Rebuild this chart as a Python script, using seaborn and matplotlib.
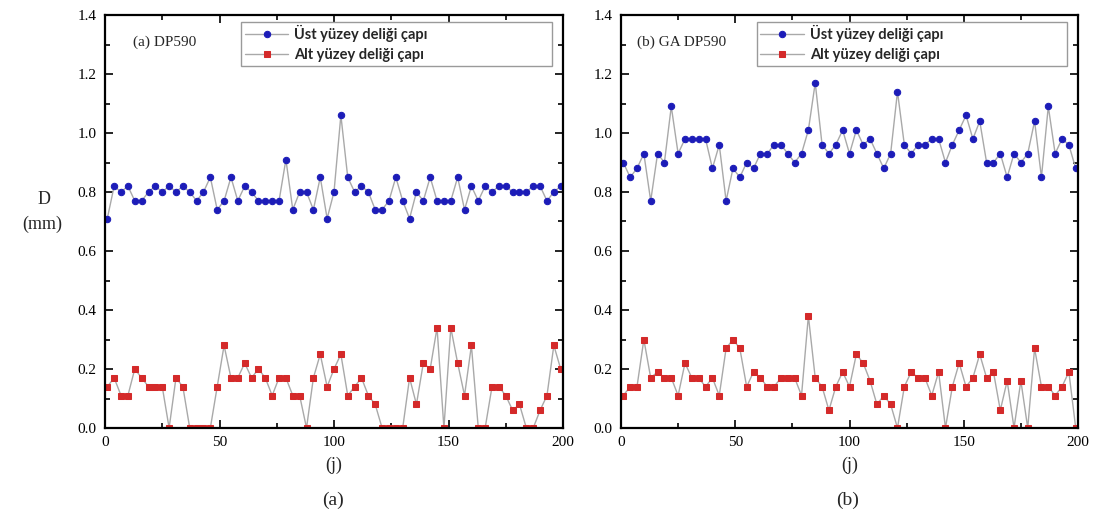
import numpy as np
import pandas as pd
import matplotlib
matplotlib.use('Agg')
import matplotlib.pyplot as plt
import seaborn as sns
from matplotlib.ticker import MultipleLocator, FormatStrFormatter

# positions along the specimen (j)
j = list(range(1, 200, 3))

# (a) DP590
a_ust = [0.71, 0.82, 0.80, 0.82, 0.77, 0.77, 0.80, 0.82, 0.80, 0.82,
         0.80, 0.82, 0.80, 0.77, 0.80, 0.85, 0.74, 0.77, 0.85, 0.77,
         0.82, 0.80, 0.77, 0.77, 0.77, 0.77, 0.91, 0.74, 0.80, 0.80,
         0.74, 0.85, 0.71, 0.80, 1.06, 0.85, 0.80, 0.82, 0.80, 0.74,
         0.74, 0.77, 0.85, 0.77, 0.71, 0.80, 0.77, 0.85, 0.77, 0.77,
         0.77, 0.85, 0.74, 0.82, 0.77, 0.82, 0.80, 0.82, 0.82, 0.80,
         0.80, 0.80, 0.82, 0.82, 0.77, 0.80, 0.82]
a_alt = [0.14, 0.17, 0.11, 0.11, 0.20, 0.17, 0.14, 0.14, 0.14, 0.00,
         0.17, 0.14, 0.00, 0.00, 0.00, 0.00, 0.14, 0.28, 0.17, 0.17,
         0.22, 0.17, 0.20, 0.17, 0.11, 0.17, 0.17, 0.11, 0.11, 0.00,
         0.17, 0.25, 0.14, 0.20, 0.25, 0.11, 0.14, 0.17, 0.11, 0.08,
         0.00, 0.00, 0.00, 0.00, 0.17, 0.08, 0.22, 0.20, 0.34, 0.00,
         0.34, 0.22, 0.11, 0.28, 0.00, 0.00, 0.14, 0.14, 0.11, 0.06,
         0.08, 0.00, 0.00, 0.06, 0.11, 0.28, 0.20]

# (b) GA DP590
b_ust = [0.90, 0.85, 0.88, 0.93, 0.77, 0.93, 0.90, 1.09, 0.93, 0.98,
         0.98, 0.98, 0.98, 0.88, 0.96, 0.77, 0.88, 0.85, 0.90, 0.88,
         0.93, 0.93, 0.96, 0.96, 0.93, 0.90, 0.93, 1.01, 1.17, 0.96,
         0.93, 0.96, 1.01, 0.93, 1.01, 0.96, 0.98, 0.93, 0.88, 0.93,
         1.14, 0.96, 0.93, 0.96, 0.96, 0.98, 0.98, 0.90, 0.96, 1.01,
         1.06, 0.98, 1.04, 0.90, 0.90, 0.93, 0.85, 0.93, 0.90, 0.93,
         1.04, 0.85, 1.09, 0.93, 0.98, 0.96, 0.88]
b_alt = [0.11, 0.14, 0.14, 0.30, 0.17, 0.19, 0.17, 0.17, 0.11, 0.22,
         0.17, 0.17, 0.14, 0.17, 0.11, 0.27, 0.30, 0.27, 0.14, 0.19,
         0.17, 0.14, 0.14, 0.17, 0.17, 0.17, 0.11, 0.38, 0.17, 0.14,
         0.06, 0.14, 0.19, 0.14, 0.25, 0.22, 0.16, 0.08, 0.11, 0.08,
         0.00, 0.14, 0.19, 0.17, 0.17, 0.11, 0.19, 0.00, 0.14, 0.22,
         0.14, 0.17, 0.25, 0.17, 0.19, 0.06, 0.16, 0.00, 0.16, 0.00,
         0.27, 0.14, 0.14, 0.11, 0.14, 0.19, 0.00]

lbl_ust = 'Üst yüzey deliği çapı'
lbl_alt = 'Alt yüzey deliği çapı'
panel_tags = ['(a) DP590', '(b) GA DP590']
captions = ['(a)', '(b)']

sns.set_style('ticks')
plt.rcParams['font.family'] = ['Liberation Serif', 'DejaVu Serif']

W, H = 1104, 522
fig = plt.figure(figsize=(W / 100, H / 100), dpi=100)
ax1 = fig.add_axes([105 / W, 1 - 428 / H, 458 / W, 413 / H])
ax2 = fig.add_axes([621 / W, 1 - 428 / H, 457 / W, 413 / H])

line_col = '#a9a9a9'
blue = '#1c1cb8'
red = '#d42a2a'

panels = [(ax1, a_ust, a_alt, panel_tags[0], captions[0], 0.061, 333),
          (ax2, b_ust, b_alt, panel_tags[1], captions[1], 0.035, 848)]

for ax, ust, alt, tag, cap, tagx, capx in panels:
    df = pd.DataFrame({'j': j, 'ust': ust, 'alt': alt})
    sns.lineplot(data=df, x='j', y='ust', ax=ax, color=line_col, lw=1.0,
                 marker='o', markersize=4.6, markerfacecolor=blue,
                 markeredgecolor=blue, label=lbl_ust)
    sns.lineplot(data=df, x='j', y='alt', ax=ax, color=line_col, lw=1.0,
                 marker='s', markersize=4.3, markerfacecolor=red,
                 markeredgecolor=red, label=lbl_alt)
    ax.set_xlim(0, 200)
    ax.set_ylim(0, 1.4)
    ax.xaxis.set_major_locator(MultipleLocator(50))
    ax.xaxis.set_minor_locator(MultipleLocator(25))
    ax.yaxis.set_major_locator(MultipleLocator(0.2))
    ax.yaxis.set_minor_locator(MultipleLocator(0.1))
    ax.yaxis.set_major_formatter(FormatStrFormatter('%.1f'))
    ax.tick_params(which='both', direction='in', top=True, right=True,
                   labelsize=11, width=1.2, colors='black')
    ax.tick_params(which='major', length=6, pad=6)
    ax.tick_params(which='minor', length=3.5)
    for s in ax.spines.values():
        s.set_linewidth(1.6)
        s.set_color('black')
    ax.set_ylabel('')
    ax.set_xlabel('(j)', fontsize=13, labelpad=5)
    ax.text(tagx, 0.935, tag, transform=ax.transAxes, fontsize=11,
            ha='left', va='center')
    leg = ax.legend(loc='upper left', bbox_to_anchor=(0.297, 0.884, 0.68, 0.1),
                    mode='expand', borderaxespad=0, frameon=True,
                    fancybox=False, edgecolor='#9a9a9a', framealpha=1,
                    handlelength=3.0, numpoints=1, borderpad=0.25,
                    labelspacing=0.38, handletextpad=0.4,
                    prop={'family': 'Lato', 'weight': 'bold', 'size': 10.5})
    leg.get_frame().set_linewidth(1.0)
    fig.text(capx / W, 1 - 500 / H, cap, ha='center', va='center', fontsize=14)

fig.text(44 / W, 1 - 200 / H, 'D', ha='center', va='center', fontsize=13)
fig.text(42 / W, 1 - 224 / H, '(mm)', ha='center', va='center', fontsize=13)

fig.savefig('out.png', dpi=100)
